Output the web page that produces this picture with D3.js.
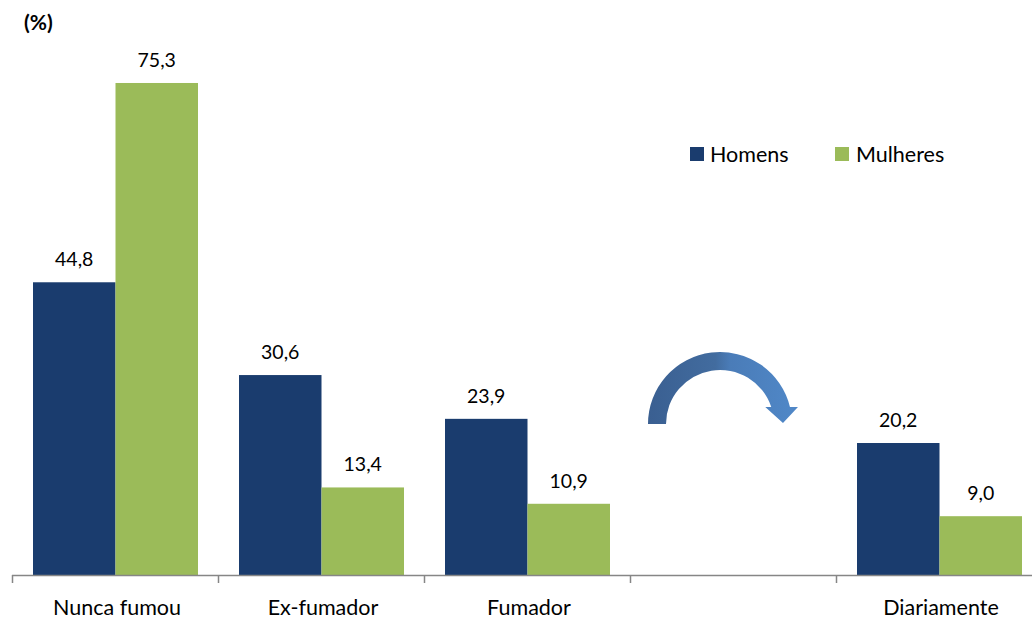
<!DOCTYPE html>
<html><head><meta charset="utf-8">
<script src="https://cdn.jsdelivr.net/npm/d3@7"></script>
<style>body{margin:0;background:#fff}svg{display:block;font-family:Lato,"Open Sans",sans-serif}</style>
</head><body>
<svg id="c" width="1032" height="619"></svg>
<script>
const categories = ["Nunca fumou","Ex-fumador","Fumador","","Diariamente"];
const seriesNames = ["Homens","Mulheres"];
const homens =   [44.8, 30.6, 23.9, null, 20.2];
const mulheres = [75.3, 13.4, 10.9, null, 9.0];
const colors = ["#1A3C6E","#9BBB59"];
const unitLabel = "(%)";

const svg = d3.select("#c");
const x = d3.scaleBand().domain(d3.range(categories.length)).range([12, 1042]).padding(0);
const x1 = d3.scaleBand().domain([0,1]).range([21, 186]).padding(0);
const y = d3.scaleLinear().domain([0, 80]).range([575, 575 - 80*6.534]);
const fmt = v => d3.format(".1f")(v).replace(".", ",");

const data = [homens, mulheres];
data.forEach((vals, s) => {
  vals.forEach((v, i) => {
    if (v == null) return;
    const bx = x(i) + x1(s);
    svg.append("rect").attr("x", bx).attr("y", y(v)).attr("width", x1.bandwidth()).attr("height", y(0) - y(v)).attr("fill", colors[s]);
    svg.append("text").attr("x", bx + x1.bandwidth()/2).attr("y", y(v) - 16).attr("text-anchor","middle")
      .attr("font-size", 19.5).attr("fill","#000").text(fmt(v));
  });
});

// axis
const axisG = svg.append("g");
axisG.append("line").attr("x1", 12).attr("x2", 1032).attr("y1", 575.5).attr("y2", 575.5).attr("stroke","#868686").attr("stroke-width",1.5);
categories.forEach((c, i) => {
  axisG.append("line").attr("x1", x(i)+0.5).attr("x2", x(i)+0.5).attr("y1", 575).attr("y2", 583).attr("stroke","#868686").attr("stroke-width",1.5);
  if (c) axisG.append("text").attr("x", x(i) + x.bandwidth()/2 + 2).attr("y", 615).attr("text-anchor","middle").attr("font-size",21.5).attr("fill","#000").text(c);
});

svg.append("text").attr("x", 24).attr("y", 30).attr("font-size", 21).attr("font-weight","bold").text(unitLabel);

// legend
const lg = [[690, 710], [835, 856]];
seriesNames.forEach((n, s) => {
  svg.append("rect").attr("x", lg[s][0]).attr("y", 147).attr("width", 14).attr("height", 14).attr("fill", colors[s]);
  svg.append("text").attr("x", lg[s][1]).attr("y", 162).attr("font-size", 21.5).text(n);
});

// curved arrow decoration in the empty slot
const defs = svg.append("defs");
const grad = defs.append("linearGradient").attr("id","ag").attr("x1","0%").attr("x2","100%");
grad.append("stop").attr("offset","0%").attr("stop-color","#3A5F91");
grad.append("stop").attr("offset","45%").attr("stop-color","#426C9F");
grad.append("stop").attr("offset","55%").attr("stop-color","#4A7CB8");
grad.append("stop").attr("offset","100%").attr("stop-color","#5088C8");
const cx = x(3) + 90, cy = 424, ro = 72, ri = 54, yEnd = 407;
const xo = cx + Math.sqrt(ro*ro - (cy-yEnd)**2), xi = cx + Math.sqrt(ri*ri - (cy-yEnd)**2);
const p = d3.path();
p.moveTo(cx - ro, cy);
p.arc(cx, cy, ro, Math.PI, 2*Math.PI - Math.asin((cy-yEnd)/ro), false);
p.lineTo(xo + 8, yEnd);
p.lineTo(cx + 63, yEnd + 16);
p.lineTo(xi - 6, yEnd);
p.lineTo(xi, yEnd);
p.arc(cx, cy, ri, -Math.asin((cy-yEnd)/ri), Math.PI, true);
p.closePath();
svg.append("path").attr("d", p.toString()).attr("fill","url(#ag)");
</script>
</body></html>
